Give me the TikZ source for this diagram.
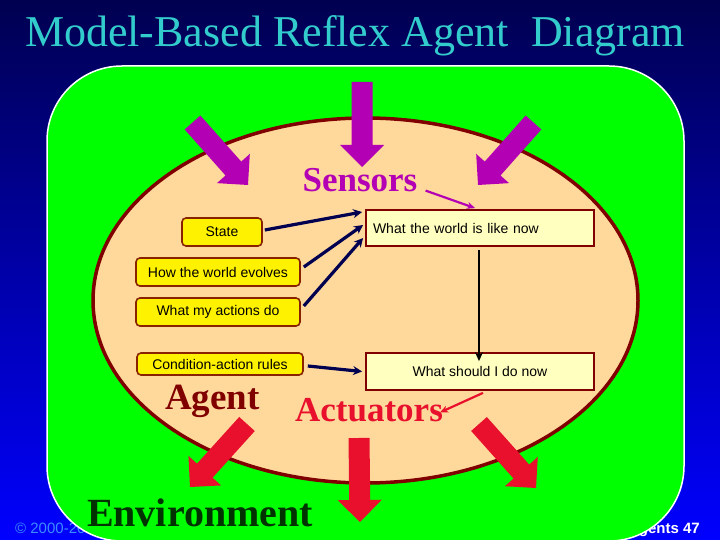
\documentclass[tikz,border=0pt]{standalone}
\usepackage{fontspec}
\setmainfont{Liberation Serif}
\newfontfamily\arialf{Liberation Sans}
\usetikzlibrary{calc,arrows.meta}
\definecolor{bgtop}{RGB}{0,0,80}
\definecolor{bgbot}{RGB}{0,0,255}
\definecolor{titlec}{RGB}{51,204,204}
\definecolor{envgreen}{RGB}{0,255,0}
\definecolor{agtan}{RGB}{255,217,155}
\definecolor{agborder}{RGB}{128,0,0}
\definecolor{boxborder}{RGB}{136,34,0}
\definecolor{sensmag}{RGB}{180,0,180}
\definecolor{actred}{RGB}{232,16,44}
\definecolor{navyline}{RGB}{0,0,80}
\definecolor{envtext}{RGB}{0,51,0}
\definecolor{copyc}{RGB}{60,140,255}
\definecolor{lightbox}{RGB}{255,255,192}
\newcommand{\blkarr}[5]{%
 \pgfmathsetmacro{\baDx}{#3-#1}%
 \pgfmathsetmacro{\baDy}{#4-#2}%
 \pgfmathsetmacro{\baAng}{-atan2(\baDy,\baDx)}%
 \pgfmathsetmacro{\baLen}{veclen(\baDx,\baDy)}%
 \pgfmathsetmacro{\baNeck}{\baLen-22}%
 \fill[#5,shift={(#1,#2)},rotate=\baAng] (0pt,-10.5pt) -- (\baNeck pt,-10.5pt) -- (\baNeck pt,-22pt) -- (\baLen pt,0pt) -- (\baNeck pt,22pt) -- (\baNeck pt,10.5pt) -- (0pt,10.5pt) -- cycle;}
\begin{document}
\begin{tikzpicture}[x=1pt,y=-1pt,
 smallbox/.style={draw=boxborder,line width=1.6pt,fill=yellow,rounded corners=4pt,inner sep=0pt,font=\arialf\fontsize{14}{16}\selectfont},
 bigbox/.style={draw=agborder,line width=1.8pt,fill=lightbox,inner sep=0pt,minimum width=228pt,font=\arialf\fontsize{14}{16}\selectfont},
 navyarr/.style={draw=navyline,line width=3.2pt,-{Stealth[length=9pt,width=9pt]}},
 bigtext/.style={anchor=base,inner sep=0pt}]
\useasboundingbox (0,0) rectangle (720,540);
\shade[top color=bgtop, bottom color=bgbot] (0,0) rectangle (720,540);
\node[anchor=base west, inner sep=0pt, font=\arialf\fontsize{15}{17}\selectfont, text=copyc] (copy) at (15,533) {© 2000-200};
\node[anchor=base east, inner sep=0pt, font=\arialf\bfseries\fontsize{15}{17}\selectfont, text=white] (pg) at (700,533) {gents 47};
\draw[white, line width=1.5pt, fill=envgreen, rounded corners=75pt] (47,66) rectangle (684,541);
\node[bigtext, font=\fontsize{44}{48}\selectfont, text=titlec] (title) at (355,47) {Model-Based Reflex Agent\ \ Diagram};
\draw[agborder, line width=3.5pt, fill=agtan] (365.5,300.5) ellipse [x radius=272.5pt, y radius=182.5pt];
\node[smallbox, minimum width=80pt, minimum height=28pt] (state) at (222,232) {State};
\node[smallbox, minimum width=164pt, minimum height=28pt] (how) at (218,272) {How the world evolves};
\node[smallbox, minimum width=164pt, minimum height=28pt] (act) at (218,312) {What my actions do};
\node[smallbox, minimum width=166pt, minimum height=22pt] (cond) at (220,364) {Condition-action rules};
\node[bigbox, minimum height=36pt, text width=214pt, align=left, inner xsep=7pt] (wbox) at (480,228) {What the world is like now};
\node[bigbox, minimum height=37pt] (sbox) at (480,371.5) {What should I do now};
\node[bigtext, font=\bfseries\fontsize{35}{40}\selectfont, text=sensmag] (sensors) at (360,192) {Sensors};
\node[bigtext, font=\bfseries\fontsize{37}{42}\selectfont, text=agborder] (agent) at (212.5,409) {Agent};
\node[bigtext, font=\bfseries\fontsize{35}{40}\selectfont, text=actred] (actuators) at (369,421.7) {Actuators};
\node[bigtext, font=\bfseries\fontsize{40}{44}\selectfont, text=envtext] (env) at (200,526) {Environment};
\draw[navyarr] ($(state.east)+(2,-2)$) -- ($(wbox.west)+(-3,-16)$);
\draw[navyarr] ($(how.east)+(3,-5)$) -- ($(wbox.west)+(-2,-3)$);
\draw[navyarr] ($(act.east)+(3,-6)$) -- ($(wbox.west)+(-2,10)$);
\draw[navyarr] ($(cond.east)+(4,2)$) -- ($(sbox.west)+(-3,0)$);
\draw[black, line width=2pt, -{Stealth[length=9pt,width=8pt]}] ($(wbox.south)+(-1,3)$) -- ($(sbox.north)+(-1,9)$);
\draw[sensmag, line width=2.2pt, -{Stealth[length=8pt,width=7pt]}] ($(sensors.east)+(8,10)$) -- ($(wbox.north)+(-5,-1)$);
\draw[actred, line width=2.2pt, -{Stealth[length=8pt,width=7pt]}] ($(sbox.south)+(3,2)$) -- ($(actuators.east)+(-3,2)$);
\blkarr{192.5}{122.5}{248}{185}{sensmag}
\blkarr{362}{82}{362}{167}{sensmag}
\blkarr{533.5}{122.5}{478}{185}{sensmag}
\blkarr{247}{424}{190}{487}{actred}
\blkarr{359}{438}{360}{522}{actred}
\blkarr{479}{424}{536}{488}{actred}
\end{tikzpicture}
\end{document}
